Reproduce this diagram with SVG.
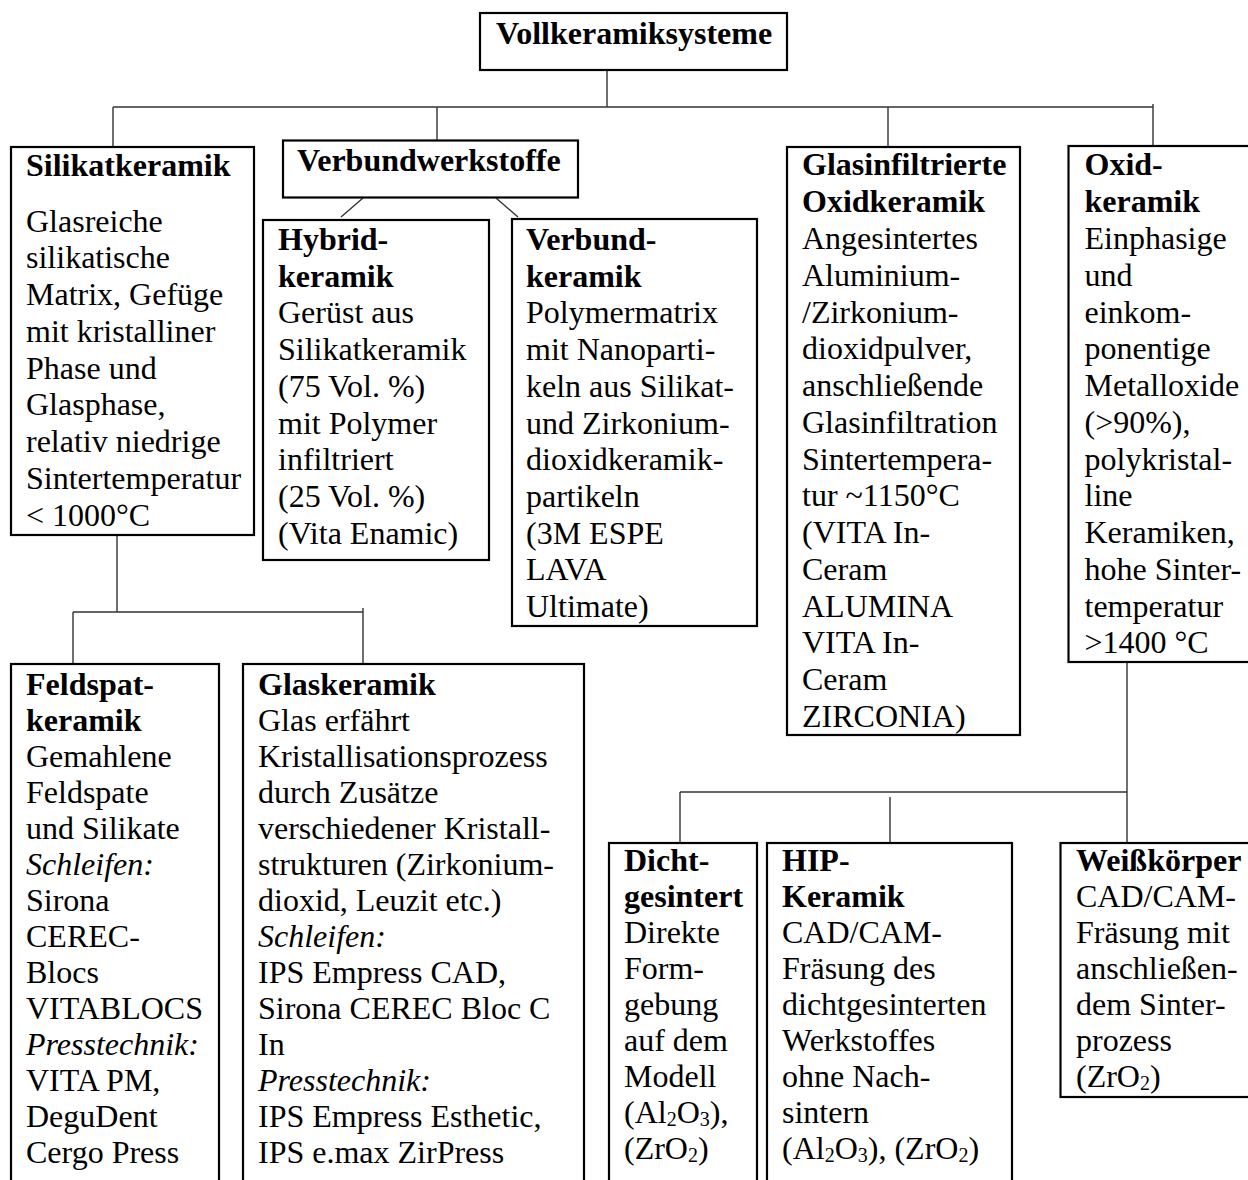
<svg xmlns="http://www.w3.org/2000/svg" width="1248" height="1180" viewBox="0 0 1248 1180">
<style>
.box{fill:#fff;stroke:#000;stroke-width:2.2}
.con{fill:none;stroke:#333;stroke-width:1.4}
text{font-family:"Liberation Serif","Times New Roman",serif;font-size:32px;fill:#000}
.b{font-weight:bold}
.i{font-style:italic}
.s{font-size:20px;baseline-shift:-3px}
</style>
<rect width="1248" height="1180" fill="#fff"/>
<g id="connectors">
<path class="con" d="M607 70V107M113 107H1153M113 107V147M437 107V140M888 107V147M1153 104V146"/>
<path class="con" d="M363 198L341 217M496 198L518 217"/>
<path class="con" d="M117 535V612M73 612H363M73 612V664M363 608V664"/>
<path class="con" d="M1127 662V843M680 792H1127M680 792V843M890 797V843"/>
</g>
<g id="root">
<rect class="box" x="480" y="13" width="307" height="57"/>
<text class="b" x="496" y="43.5">Vollkeramiksysteme</text>
</g>
<g id="silikatkeramik">
<rect class="box" x="11" y="147" width="243" height="388"/>
<text class="b" x="26" y="176">Silikatkeramik</text>
<text x="26" y="231.7"><tspan x="26">Glasreiche</tspan><tspan x="26" dy="36.75">silikatische</tspan><tspan x="26" dy="36.75">Matrix, Gefüge</tspan><tspan x="26" dy="36.75">mit kristalliner</tspan><tspan x="26" dy="36.75">Phase und</tspan><tspan x="26" dy="36.75">Glasphase,</tspan><tspan x="26" dy="36.75">relativ niedrige</tspan><tspan x="26" dy="36.75">Sintertemperatur</tspan><tspan x="26" dy="36.75">&lt; 1000°C</tspan></text>
</g>
<g id="verbundwerkstoffe">
<rect class="box" x="283" y="140.5" width="295" height="57"/>
<text class="b" x="297" y="171">Verbundwerkstoffe</text>
</g>
<g id="hybridkeramik">
<rect class="box" x="263" y="220" width="226" height="340"/>
<text x="278" y="250"><tspan class="b" x="278">Hybrid-</tspan><tspan class="b" x="278" dy="36.7">keramik</tspan><tspan x="278" dy="36.7">Gerüst aus</tspan><tspan x="278" dy="36.7">Silikatkeramik</tspan><tspan x="278" dy="36.7">(75 Vol. %)</tspan><tspan x="278" dy="36.7">mit Polymer</tspan><tspan x="278" dy="36.7">infiltriert</tspan><tspan x="278" dy="36.7">(25 Vol. %)</tspan><tspan x="278" dy="36.7">(Vita Enamic)</tspan></text>
</g>
<g id="verbundkeramik">
<rect class="box" x="512" y="219" width="245" height="407"/>
<text x="526" y="250"><tspan class="b" x="526">Verbund-</tspan><tspan class="b" x="526" dy="36.7">keramik</tspan><tspan x="526" dy="36.7">Polymermatrix</tspan><tspan x="526" dy="36.7">mit Nanoparti-</tspan><tspan x="526" dy="36.7">keln aus Silikat-</tspan><tspan x="526" dy="36.7">und Zirkonium-</tspan><tspan x="526" dy="36.7">dioxidkeramik-</tspan><tspan x="526" dy="36.7">partikeln</tspan><tspan x="526" dy="36.7">(3M ESPE</tspan><tspan x="526" dy="36.7">LAVA</tspan><tspan x="526" dy="36.7">Ultimate)</tspan></text>
</g>
<g id="glasinfiltrierte-oxidkeramik">
<rect class="box" x="787" y="147" width="233" height="588"/>
<text x="802" y="175"><tspan class="b" x="802">Glasinfiltrierte</tspan><tspan class="b" x="802" dy="37">Oxidkeramik</tspan><tspan x="802" dy="37">Angesintertes</tspan><tspan x="802" dy="36.75">Aluminium-</tspan><tspan x="802" dy="36.75">/Zirkonium-</tspan><tspan x="802" dy="36.75">dioxidpulver,</tspan><tspan x="802" dy="36.75">anschließende</tspan><tspan x="802" dy="36.75">Glasinfiltration</tspan><tspan x="802" dy="36.75">Sintertempera-</tspan><tspan x="802" dy="36.75">tur ~1150°C</tspan><tspan x="802" dy="36.75">(VITA In-</tspan><tspan x="802" dy="36.75">Ceram</tspan><tspan x="802" dy="36.75">ALUMINA</tspan><tspan x="802" dy="36.75">VITA In-</tspan><tspan x="802" dy="36.75">Ceram</tspan><tspan x="802" dy="36.75">ZIRCONIA)</tspan></text>
</g>
<g id="oxidkeramik">
<rect class="box" x="1068.5" y="146" width="200" height="516"/>
<text x="1084.5" y="175"><tspan class="b" x="1084.5">Oxid-</tspan><tspan class="b" x="1084.5" dy="37">keramik</tspan><tspan x="1084.5" dy="37">Einphasige</tspan><tspan x="1084.5" dy="36.75">und</tspan><tspan x="1084.5" dy="36.75">einkom-</tspan><tspan x="1084.5" dy="36.75">ponentige</tspan><tspan x="1084.5" dy="36.75">Metalloxide</tspan><tspan x="1084.5" dy="36.75">(&gt;90%),</tspan><tspan x="1084.5" dy="36.75">polykristal-</tspan><tspan x="1084.5" dy="36.75">line</tspan><tspan x="1084.5" dy="36.75">Keramiken,</tspan><tspan x="1084.5" dy="36.75">hohe Sinter-</tspan><tspan x="1084.5" dy="36.75">temperatur</tspan><tspan x="1084.5" dy="36.75">&gt;1400 °C</tspan></text>
</g>
<g id="feldspatkeramik">
<rect class="box" x="11" y="664" width="208" height="540"/>
<text x="26" y="695"><tspan class="b" x="26">Feldspat-</tspan><tspan class="b" x="26" dy="36">keramik</tspan><tspan x="26" dy="36">Gemahlene</tspan><tspan x="26" dy="36">Feldspate</tspan><tspan x="26" dy="36">und Silikate</tspan><tspan class="i" x="26" dy="36">Schleifen:</tspan><tspan x="26" dy="36">Sirona</tspan><tspan x="26" dy="36">CEREC-</tspan><tspan x="26" dy="36">Blocs</tspan><tspan x="26" dy="36">VITABLOCS</tspan><tspan class="i" x="26" dy="36">Presstechnik:</tspan><tspan x="26" dy="36">VITA PM,</tspan><tspan x="26" dy="36">DeguDent</tspan><tspan x="26" dy="36">Cergo Press</tspan></text>
</g>
<g id="glaskeramik">
<rect class="box" x="243" y="664" width="341" height="540"/>
<text x="258" y="695"><tspan class="b" x="258">Glaskeramik</tspan><tspan x="258" dy="36">Glas erfährt</tspan><tspan x="258" dy="36">Kristallisationsprozess</tspan><tspan x="258" dy="36">durch Zusätze</tspan><tspan x="258" dy="36">verschiedener Kristall-</tspan><tspan x="258" dy="36">strukturen (Zirkonium-</tspan><tspan x="258" dy="36">dioxid, Leuzit etc.)</tspan><tspan class="i" x="258" dy="36">Schleifen:</tspan><tspan x="258" dy="36">IPS Empress CAD,</tspan><tspan x="258" dy="36">Sirona CEREC Bloc C</tspan><tspan x="258" dy="36">In</tspan><tspan class="i" x="258" dy="36">Presstechnik:</tspan><tspan x="258" dy="36">IPS Empress Esthetic,</tspan><tspan x="258" dy="36">IPS e.max ZirPress</tspan></text>
</g>
<g id="dichtgesintert">
<rect class="box" x="609" y="843" width="148" height="360"/>
<text x="624" y="871"><tspan class="b" x="624">Dicht-</tspan><tspan class="b" x="624" dy="36">gesintert</tspan><tspan x="624" dy="36">Direkte</tspan><tspan x="624" dy="36">Form-</tspan><tspan x="624" dy="36">gebung</tspan><tspan x="624" dy="36">auf dem</tspan><tspan x="624" dy="36">Modell</tspan><tspan x="624" dy="36">(Al<tspan class="s">2</tspan>O<tspan class="s">3</tspan>),</tspan><tspan x="624" dy="36">(ZrO<tspan class="s">2</tspan>)</tspan></text>
</g>
<g id="hip-keramik">
<rect class="box" x="767" y="843" width="245" height="360"/>
<text x="782" y="871"><tspan class="b" x="782">HIP-</tspan><tspan class="b" x="782" dy="36">Keramik</tspan><tspan x="782" dy="36">CAD/CAM-</tspan><tspan x="782" dy="36">Fräsung des</tspan><tspan x="782" dy="36">dichtgesinterten</tspan><tspan x="782" dy="36">Werkstoffes</tspan><tspan x="782" dy="36">ohne Nach-</tspan><tspan x="782" dy="36">sintern</tspan><tspan x="782" dy="36">(Al<tspan class="s">2</tspan>O<tspan class="s">3</tspan>), (ZrO<tspan class="s">2</tspan>)</tspan></text>
</g>
<g id="weisskoerper">
<rect class="box" x="1060.5" y="843" width="210" height="254"/>
<text x="1076" y="871"><tspan class="b" x="1076">Weißkörper</tspan><tspan x="1076" dy="36">CAD/CAM-</tspan><tspan x="1076" dy="36">Fräsung mit</tspan><tspan x="1076" dy="36">anschließen-</tspan><tspan x="1076" dy="36">dem Sinter-</tspan><tspan x="1076" dy="36">prozess</tspan><tspan x="1076" dy="36">(ZrO<tspan class="s">2</tspan>)</tspan></text>
</g>
</svg>
